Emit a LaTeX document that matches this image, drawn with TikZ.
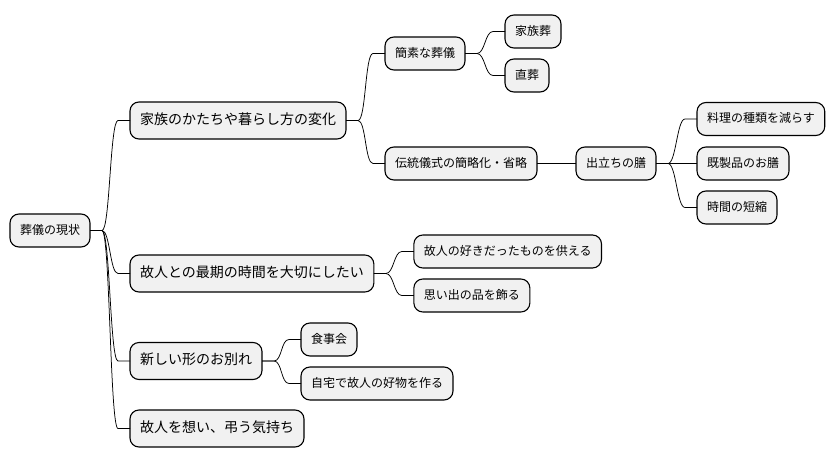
\documentclass[tikz,border=0pt]{standalone}
\usepackage{fontspec}
\setmainfont{Noto Sans CJK JP}
\usetikzlibrary{positioning}
\usetikzlibrary{calc}
\definecolor{boxfill}{HTML}{F1F1F1}
\tikzset{
	topic/.style={draw, line width=1.1pt, fill=boxfill, rounded corners=9pt, outer sep=0pt, inner xsep=10pt, inner ysep=0pt, text height=0.86em, text depth=0.14em, minimum height=33pt, font=\fontsize{12pt}{14pt}\selectfont},
	bigtopic/.style={topic, minimum height=37pt, font=\fontsize{14pt}{17pt}\selectfont},
	link/.style={line width=0.75pt}
}

\begin{document}
\begin{tikzpicture}
	\useasboundingbox (0,0) rectangle (837pt,-463pt);
	\node [topic, anchor=west] at (10pt,-230.5pt) (0root) {葬儀の現状};
	% first level
	\node [bigtopic, right=40pt of 0root, yshift=110pt] (1family) {家族のかたちや暮らし方の変化};
	\node [bigtopic, right=40pt of 0root, yshift=-43pt] (1lastTime) {故人との最期の時間を大切にしたい};
	\node [bigtopic, right=40pt of 0root, yshift=-130.5pt] (1farewell) {新しい形のお別れ};
	\node [bigtopic, right=40pt of 0root, yshift=-198pt] (1mourn) {故人を想い、弔う気持ち};
	% family branch
	\node [topic, right=39pt of 1family, yshift=67pt] (2simple) {簡素な葬儀};
	\node [topic, right=39pt of 1family, yshift=-43pt] (2rites) {伝統儀式の簡略化・省略};
	\node [topic, right=40pt of 2simple, yshift=22pt] (3familyFuneral) {家族葬};
	\node [topic, right=40pt of 2simple, yshift=-22pt] (3direct) {直葬};
	\node [topic, right=39pt of 2rites] (3meal) {出立ちの膳};
	\node [topic, right=41pt of 3meal, yshift=44.5pt] (4fewer) {料理の種類を減らす};
	\node [topic, right=41pt of 3meal] (4readyMade) {既製品のお膳};
	\node [topic, right=41pt of 3meal, yshift=-44pt] (4shorter) {時間の短縮};
	% other branches
	\node [topic, right=40pt of 1lastTime, yshift=22pt] (2offer) {故人の好きだったものを供える};
	\node [topic, right=40pt of 1lastTime, yshift=-22pt] (2keepsake) {思い出の品を飾る};
	\node [topic, right=39pt of 1farewell, yshift=21.5pt] (2dinner) {食事会};
	\node [topic, right=39pt of 1farewell, yshift=-22.5pt] (2homeCook) {自宅で故人の好物を作る};
	\foreach \a/\b in {0root/1family, 0root/1lastTime, 0root/1farewell, 0root/1mourn,
		1family/2simple, 1family/2rites, 2simple/3familyFuneral, 2simple/3direct,
		2rites/3meal, 3meal/4fewer, 3meal/4readyMade, 3meal/4shorter,
		1lastTime/2offer, 1lastTime/2keepsake, 1farewell/2dinner, 1farewell/2homeCook}
		\draw [link] (\a.east) -- ++(12pt,0) .. controls +(8pt,0) and +(-8pt,0) .. ([xshift=-12pt]\b.west) -- (\b.west);
\end{tikzpicture}
\end{document}
